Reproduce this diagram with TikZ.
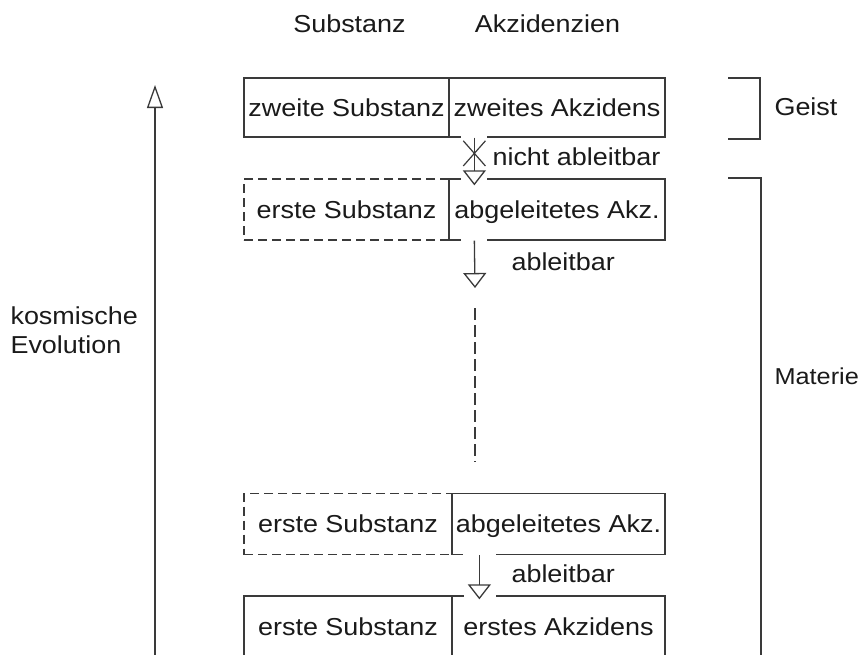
\documentclass[tikz,border=0pt]{standalone}
\usepackage{fontspec}
\setmainfont[FakeStretch=1.1]{Liberation Sans}
\usetikzlibrary{arrows.meta,shapes.misc,calc}
\definecolor{ln}{HTML}{3A3A3A}
\definecolor{tx}{HTML}{1A1A1A}
\begin{document}
\begin{tikzpicture}[x=1pt,y=-1pt,
  every node/.style={text=tx, font=\fontsize{24.5}{29}\selectfont},
  cell/.style={draw=ln, line width=1.3pt, inner sep=0pt, text height=17.5pt, text depth=0pt, minimum height=61pt},
  dcell/.style={cell, dash pattern=on 9pt off 5pt},
  lne/.style={draw=ln, line width=1.3pt},
  arr/.style={lne, -{Triangle[length=15pt,width=23pt,fill=white]}},
  gap/.style={fill=white}
]
\useasboundingbox (0,0) rectangle (859,654);

% headers
\node[anchor=base] (hs) at (349.5,32) {Substanz};
\node[anchor=base] (ha) at (547.5,32) {Akzidenzien};

% rows
\node[cell, minimum width=205pt, minimum height=59pt] (zs) at (346.5,107.5) {zweite Substanz};
\node[cell, minimum width=216pt, minimum height=59pt] (za) at (557,107.5) {zweites Akzidens};

\node[dcell, minimum width=205pt] (es1) at (346.5,209.5) {erste Substanz};
\node[cell, minimum width=216pt] (aa1) at (557,209.5) {abgeleitetes Akz.};

\node[dcell, minimum width=208pt] (es2) at (348,524) {erste Substanz};
\node[cell, minimum width=213pt] (aa2) at (558.5,524) {abgeleitetes Akz.};

\node[cell, minimum width=208pt] (es3) at (348,626.5) {erste Substanz};
\node[cell, minimum width=213pt] (ea) at (558.5,626.5) {erstes Akzidens};

% gaps in borders around arrows
\fill[gap] ([xshift=13pt,yshift=2.5pt]za.south west) rectangle ([xshift=39pt,yshift=-2.5pt]za.south west);
\fill[gap] ([xshift=13pt,yshift=2.5pt]aa1.north west) rectangle ([xshift=39pt,yshift=-2.5pt]aa1.north west);
\fill[gap] ([xshift=13pt,yshift=2.5pt]aa1.south west) rectangle ([xshift=39pt,yshift=-2.5pt]aa1.south west);
\fill[gap] ([xshift=12pt,yshift=2.5pt]aa2.south west) rectangle ([xshift=45pt,yshift=-2.5pt]aa2.south west);
\fill[gap] ([xshift=13pt,yshift=2.5pt]ea.north west) rectangle ([xshift=45pt,yshift=-2.5pt]ea.north west);

% arrows
\draw[arr] ([xshift=26pt]za.south west) -- ([xshift=26pt,yshift=-7pt]aa1.north west)
  node[pos=0.33, cross out, draw=ln, line width=1.2pt, inner sep=0pt, minimum width=21pt, minimum height=24pt] (nx) {};
\node[anchor=base west] (na) at (489,165) {nicht ableitbar};

\coordinate (t2) at (475,288);
\draw[arr] ([xshift=26pt]aa1.south west) -- (t2);
\node[anchor=base west] (a1) at (508,270) {ableitbar};

\coordinate (d0) at (475,308);
\coordinate (d1) at (475,462);
\draw[lne, dash pattern=on 12pt off 5pt] (d0) -- (d1);

\draw[arr] ([xshift=28pt]aa2.south west) -- ([xshift=28pt,yshift=-4pt]ea.north west);
\node[anchor=base west] (a2) at (508,582) {ableitbar};

% cosmic evolution arrow
\coordinate (e0) at (155,660);
\coordinate (e1) at (155,85);
\draw[lne, -{Triangle[length=23pt,width=16pt,fill=white]}] (e0) -- (e1);
\node[anchor=base west, align=left] (ke) at (7,353) {kosmische\\Evolution};

% brackets
\draw[lne] (728,78) -- (760,78) -- (760,139) -- (728,139);
\node[anchor=base west] (ge) at (771,115) {Geist};
\draw[lne] (728,178) -- (761,178) -- (761,660);
\node[anchor=base west, font=\fontsize{23}{28}\selectfont] (ma) at (771,384) {Materie};
\end{tikzpicture}
\end{document}
